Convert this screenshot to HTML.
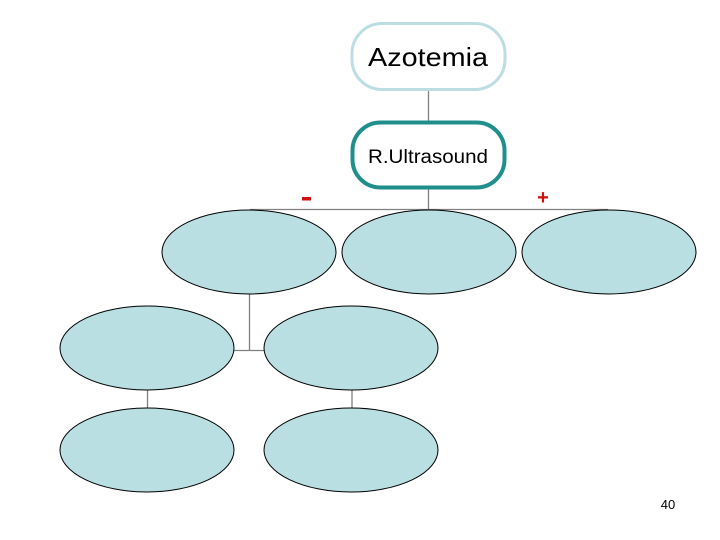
<!DOCTYPE html>
<html><head><meta charset="utf-8"><style>
html,body{margin:0;padding:0;background:#fff;}
svg{display:block;}
</style></head><body>
<svg width="720" height="540" viewBox="0 0 720 540" xmlns="http://www.w3.org/2000/svg">
<g stroke="#808080" stroke-width="1.3" fill="none">
<line x1="428.5" y1="90" x2="428.5" y2="122"/>
<line x1="428.5" y1="188" x2="428.5" y2="209.5"/>
<line x1="250" y1="209.5" x2="608" y2="209.5"/>
<line x1="249.5" y1="294" x2="249.5" y2="350.5"/>
<line x1="234" y1="350.5" x2="264" y2="350.5"/>
<line x1="147.5" y1="390" x2="147.5" y2="408"/>
<line x1="352" y1="390" x2="352" y2="408"/>
</g>
<rect x="352" y="23.5" width="153" height="66" rx="30" fill="#fff" stroke="#bcdde2" stroke-width="3"/>
<text x="368" y="66" font-family="Liberation Sans, sans-serif" font-size="26" textLength="120" lengthAdjust="spacingAndGlyphs" fill="#000">Azotemia</text>
<rect x="352.5" y="122.5" width="152" height="65" rx="28" fill="#fff" stroke="#1f8f8c" stroke-width="4"/>
<text x="368" y="163" font-family="Liberation Sans, sans-serif" font-size="19" textLength="120" lengthAdjust="spacingAndGlyphs" fill="#000">R.Ultrasound</text>
<g fill="#b9dfe3" stroke="#000" stroke-width="1">
<ellipse cx="249" cy="252" rx="87" ry="42"/>
<ellipse cx="429" cy="252" rx="87" ry="42"/>
<ellipse cx="609" cy="252" rx="87" ry="42"/>
<ellipse cx="147" cy="348" rx="87" ry="42"/>
<ellipse cx="351" cy="348" rx="87" ry="42"/>
<ellipse cx="147" cy="450" rx="87" ry="42"/>
<ellipse cx="351" cy="450" rx="87" ry="42"/>
</g>
<rect x="302" y="197" width="9" height="3.5" fill="#d01010"/>
<text x="543" y="204" font-family="Liberation Sans, sans-serif" font-size="20" font-weight="bold" text-anchor="middle" fill="#d01010">+</text>
<text x="668" y="509" font-family="Liberation Sans, sans-serif" font-size="13" text-anchor="middle" fill="#000">40</text>
</svg>
</body></html>
